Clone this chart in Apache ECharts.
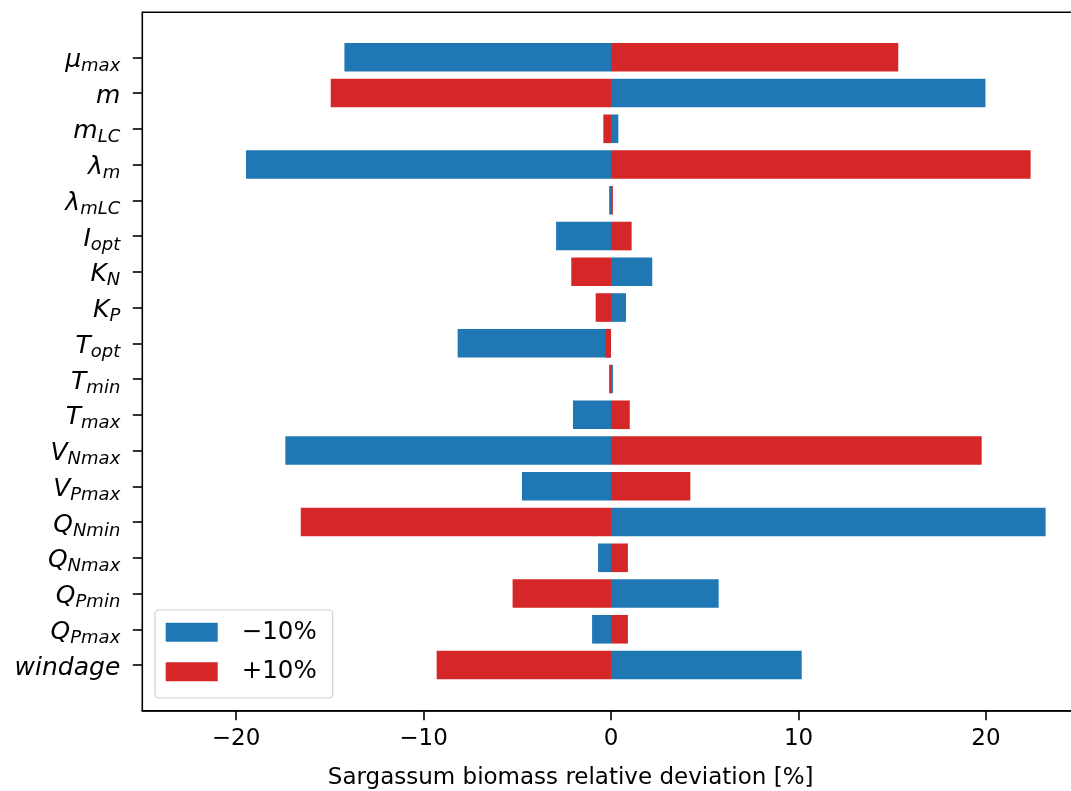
<!DOCTYPE html>
<html>
<head>
<meta charset="utf-8">
<script src="https://cdn.jsdelivr.net/npm/echarts@6/dist/echarts.min.js"></script>
<style>html,body{margin:0;padding:0;background:#fff}#c{width:1071px;height:791px}</style>
</head>
<body>
<div id="c"></div>
<script>
// Parameter labels (main symbol + subscript)
const paramMain = ['μ','m','m','λ','λ','I','K','K','T','T','T','V','V','Q','Q','Q','Q','windage'];
const paramSub  = ['max','','LC','m','mLC','opt','N','P','opt','min','max','Nmax','Pmax','Nmin','Nmax','Pmin','Pmax',''];
const categories = paramMain.map((m, i) => paramSub[i] ? m + '_' + paramSub[i] : m);

// Relative deviation [%] for -10% and +10% parameter perturbation
const minus10 = [-14.22, 19.97, 0.39, -19.47, -0.10, -2.93, 2.20, 0.80, -8.18, 0.10, -2.03, -17.37, -4.75, 23.18, -0.69, 5.74, -1.01, 10.17];
const plus10  = [15.32, -14.95, -0.41, 22.38, 0.10, 1.10, -2.12, -0.82, -0.30, -0.10, 1.00, 19.77, 4.23, -16.55, 0.90, -5.25, 0.90, -9.30];

const xTicks = [-20, -10, 0, 10, 20];
const seriesNames = ['−10%', '+10%'];

const FONT = 'DejaVu Sans';
const BLUE = '#1f77b4', RED = '#d62728';

const chart = echarts.init(document.getElementById('c'), null, {renderer: 'canvas'});
const XMIN = -25, XMAX = 25.6;
const gridLeft = 142.3, gridWidth = 948.7;

chart.setOption({
  animation: false,
  backgroundColor: '#fff',
  grid: [
    {left: gridLeft, width: gridWidth, top: 12.3, bottom: 80.3, show: true, borderColor: '#000', borderWidth: 1.6,
     backgroundColor: 'transparent', containLabel: false, outerBoundsMode: 'none'},
    {left: gridLeft, width: gridWidth, top: 39.4, bottom: 108.1, show: false, containLabel: false, outerBoundsMode: 'none'}
  ],
  xAxis: [
    {
      gridIndex: 0, type: 'value', min: XMIN, max: XMAX,
      axisLine: {show: true, onZero: false, lineStyle: {color: '#000', width: 1.6}},
      axisTick: {show: true, length: 9.5, inside: false, customValues: xTicks, lineStyle: {color: '#000', width: 1.6}},
      axisLabel: {show: true, customValues: xTicks, margin: 17, fontFamily: FONT, fontSize: 23, color: '#000',
        formatter: v => String(v).replace('-', '\u2212')},
      splitLine: {show: false},
      name: 'Sargassum biomass relative deviation [%]',
      nameLocation: 'middle', nameGap: 56,
      nameTextStyle: {fontFamily: FONT, fontSize: 23, color: '#000', padding: [0, 92, 0, 0]}
    },
    {
      gridIndex: 1, type: 'value', min: XMIN, max: XMAX, show: false,
      axisLine: {show: false, onZero: false},
      axisTick: {show: false},
      axisLabel: {show: false},
      splitLine: {show: false}
    }
  ],
  yAxis: [
    {gridIndex: 0, type: 'value', min: 0, max: 1, show: false,
     axisLine: {show: false, onZero: false}, axisTick: {show: false}, axisLabel: {show: false}, splitLine: {show: false}},
    {
      gridIndex: 1, type: 'category', data: categories, inverse: true, position: 'left',
      axisLine: {show: false, onZero: false},
      axisTick: {show: true, alignWithLabel: true, length: 9.5, lineStyle: {color: '#000', width: 1.6}},
      axisLabel: {
        margin: 22,
        padding: [6, 0, 0, 0],
        formatter: (v, i) => {
          const idx = categories.indexOf(v);
          const m = paramMain[idx], s = paramSub[idx];
          return '{m|' + m + '}' + (s ? '{s|' + s + '}' : '');
        },
        rich: {
          m: {fontFamily: FONT, fontStyle: 'italic', fontSize: 25, color: '#000', lineHeight: 30},
          s: {fontFamily: FONT, fontStyle: 'italic', fontSize: 18, color: '#000', lineHeight: 18, padding: [12, 0, 0, 0]}
        }
      },
      splitLine: {show: false}
    }
  ],
  legend: {
    left: 155, top: 610,
    orient: 'vertical',
    data: seriesNames,
    icon: 'rect',
    itemWidth: 52, itemHeight: 19, itemGap: 14.6,
    padding: [9.7, 16, 13.7, 10.7],
    backgroundColor: 'rgba(255,255,255,0.8)',
    borderColor: '#d0d0d0', borderWidth: 1.2, borderRadius: 4,
    textStyle: {fontFamily: FONT, fontSize: 24.5, color: '#000', lineHeight: 19, padding: [0, 0, 0, 19]}
  },
  series: [
    {
      name: seriesNames[0], type: 'bar', xAxisIndex: 1, yAxisIndex: 1,
      data: minus10, barWidth: '80%', barGap: '-100%',
      itemStyle: {color: BLUE}
    },
    {
      name: seriesNames[1], type: 'bar', xAxisIndex: 1, yAxisIndex: 1,
      data: plus10, barWidth: '80%', barGap: '-100%',
      itemStyle: {color: RED}
    }
  ]
});
</script>
</body>
</html>
